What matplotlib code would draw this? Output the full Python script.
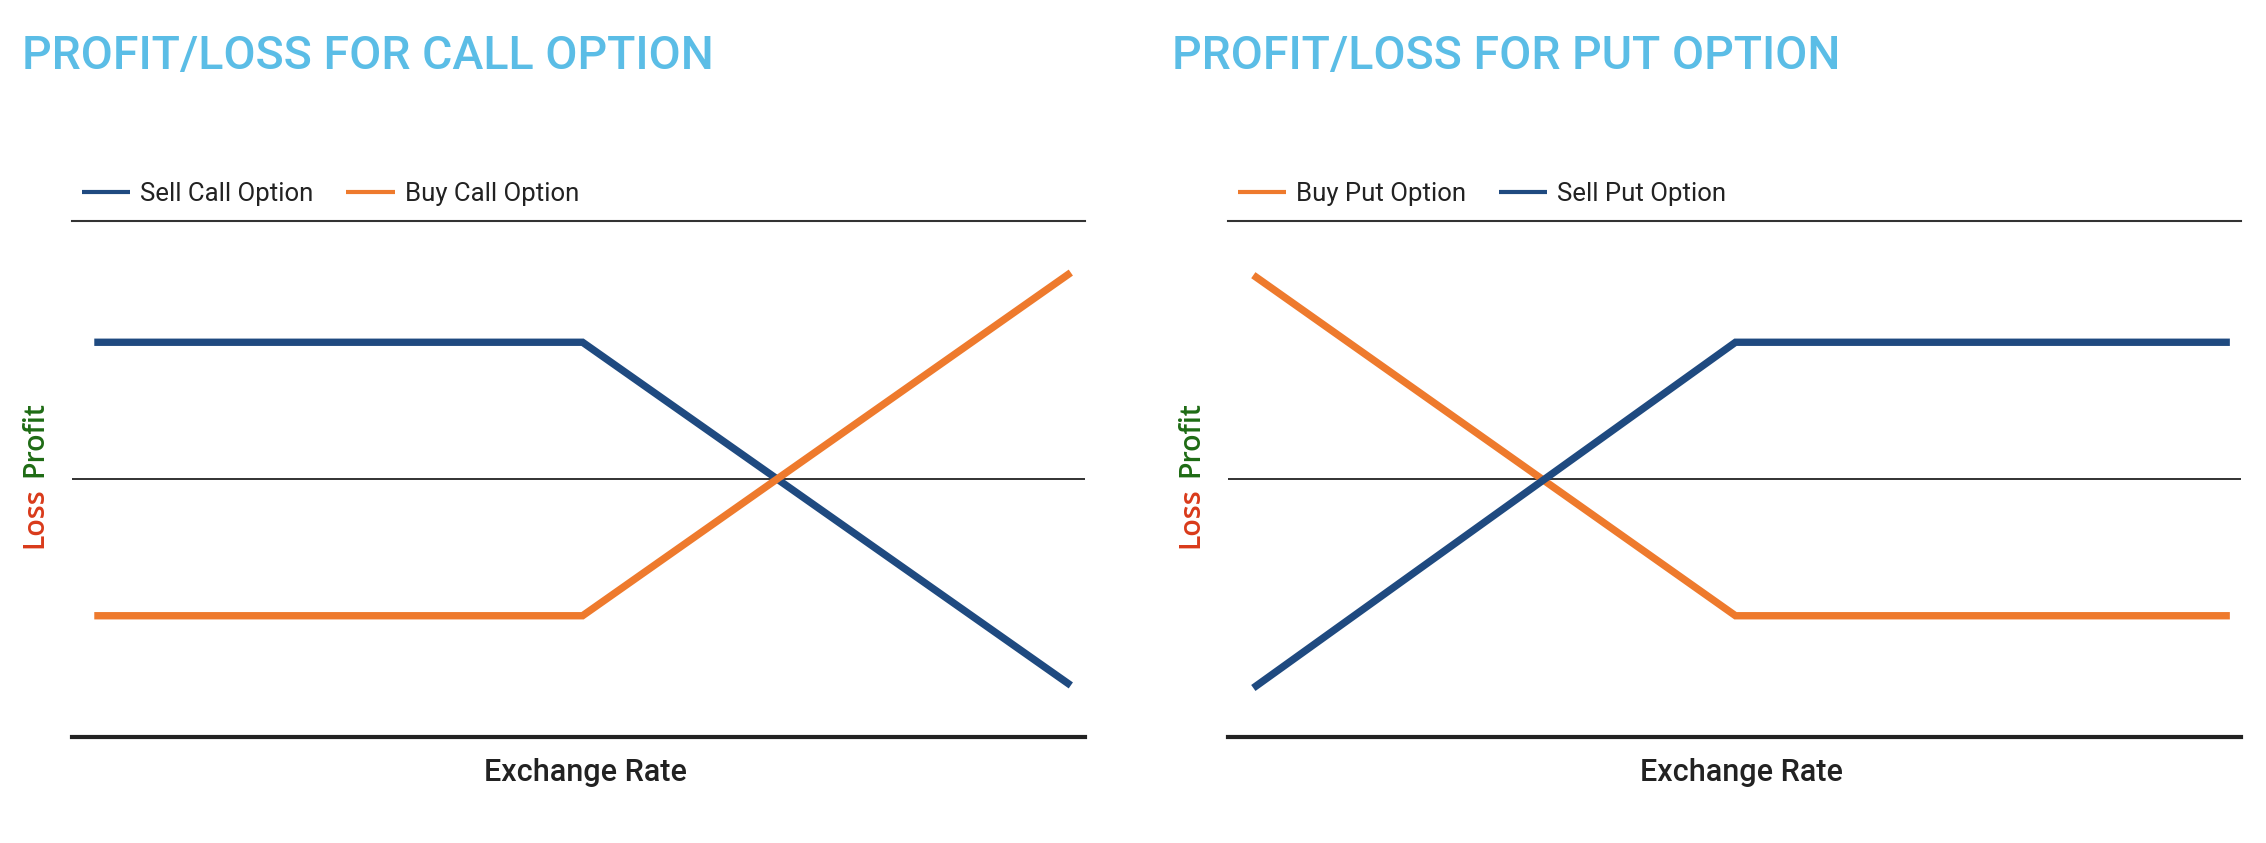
import matplotlib
matplotlib.use("Agg")
import matplotlib.pyplot as plt

W, H = 2266, 843
DPI = 100

NAVY = "#1F4A80"
ORANGE = "#EE7A2D"
TITLE_BLUE = "#5BBDE6"
LOSS_RED = "#D93A1A"
PROFIT_GREEN = "#1E6B14"
INK = "#222222"

# call option panel
call_title = "PROFIT/LOSS FOR CALL OPTION"
sell_call_x = [2.2, 50.4, 98.6]
sell_call_y = [5.3, 5.3, -8.0]
buy_call_x = [2.2, 50.4, 98.6]
buy_call_y = [-5.3, -5.3, 8.0]

# put option panel
put_title = "PROFIT/LOSS FOR PUT OPTION"
buy_put_x = [2.5, 50.1, 98.9]
buy_put_y = [7.9, -5.3, -5.3]
sell_put_x = [2.5, 50.1, 98.9]
sell_put_y = [-8.1, 5.3, 5.3]

x_label = "Exchange Rate"

plt.rcParams["font.family"] = ["Roboto", "DejaVu Sans"]

fig = plt.figure(figsize=(W / DPI, H / DPI), dpi=DPI)
fig.patch.set_facecolor("white")


def px_x(v):
    return v / W


def px_y(v):
    return 1 - v / H


def make_panel(left_px, series, title, title_px):
    top_px, bottom_px, width_px = 221, 737, 1013
    ax = fig.add_axes([px_x(left_px), px_y(bottom_px), width_px / W, (bottom_px - top_px) / H])
    for xs, ys, col, lab in series:
        ax.plot(xs, ys, color=col, lw=5.3, label=lab,
                solid_capstyle="butt", solid_joinstyle="miter")
    ax.axhline(0, color=INK, lw=1.3, zorder=0)
    ax.set_xlim(0, 100)
    ax.set_ylim(-10, 10)
    ax.set_xticks([])
    ax.set_yticks([])
    for s in ("left", "right"):
        ax.spines[s].set_visible(False)
    ax.spines["top"].set_color("#333333")
    ax.spines["top"].set_linewidth(1.5)
    ax.spines["bottom"].set_color(INK)
    ax.spines["bottom"].set_linewidth(3)

    leg = ax.legend(loc="center left", bbox_to_anchor=(0.010, 1.052), ncol=2,
                    frameon=False, fontsize=18.5, handlelength=1.87,
                    handletextpad=0.39, columnspacing=1.28,
                    borderpad=0, borderaxespad=0)
    for h in leg.legend_handles:
        h.set_linewidth(3)
    for t in leg.get_texts():
        t.set_color(INK)

    fig.text(px_x(title_px), px_y(69), title, color=TITLE_BLUE, fontsize=33.5,
             fontweight="medium", ha="left", va="baseline")

    ax.text(0.507, -0.069, x_label, transform=ax.transAxes, ha="center", va="center",
            fontsize=22, fontweight="medium", color=INK)

    ylab_x = left_px - 37
    fig.text(px_x(ylab_x), px_y(518), "Loss", rotation=90, ha="center", va="center",
             color=LOSS_RED, fontsize=20.5, family="Open Sans", fontweight="semibold")
    fig.text(px_x(ylab_x), px_y(439), "Profit", rotation=90, ha="center", va="center",
             color=PROFIT_GREEN, fontsize=20.5, family="Open Sans", fontweight="semibold")
    return ax


make_panel(72, [
    (sell_call_x, sell_call_y, NAVY, "Sell Call Option"),
    (buy_call_x, buy_call_y, ORANGE, "Buy Call Option"),
], call_title, 22)

make_panel(1228, [
    (buy_put_x, buy_put_y, ORANGE, "Buy Put Option"),
    (sell_put_x, sell_put_y, NAVY, "Sell Put Option"),
], put_title, 1172)

fig.savefig("out.png", dpi=DPI, facecolor="white")
